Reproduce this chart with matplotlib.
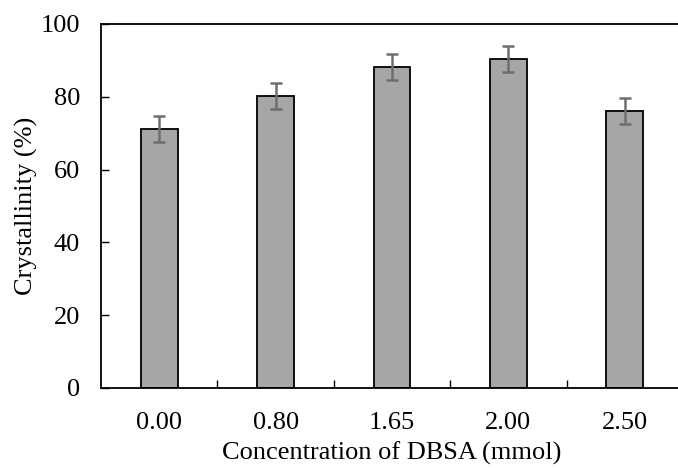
import matplotlib
matplotlib.use("Agg")
import matplotlib.pyplot as plt
import numpy as np

categories = ["0.00", "0.80", "1.65", "2.00", "2.50"]
crystallinity = [71.2, 80.3, 88.2, 90.4, 76.1]
errors = [3.6, 3.6, 3.6, 3.6, 3.5]
yticks = [0, 20, 40, 60, 80, 100]

plt.rcParams['font.family'] = ['Liberation Serif', 'DejaVu Serif']

fig = plt.figure(figsize=(6.78, 4.68), dpi=100)
ax = fig.add_axes([101/678, 80/468, (683-101)/678, (388-24)/468])

x = np.arange(len(categories))
ax.bar(x, crystallinity, width=0.315, color='#a6a6a6', edgecolor='black', linewidth=1.3, zorder=2)
ax.errorbar(x, crystallinity, yerr=errors, fmt='none', ecolor='#6e6e6e', elinewidth=1.8,
            capsize=4.5, capthick=1.8, zorder=3)

ax.set_xlim(-0.5, len(categories) - 0.5)
ax.set_ylim(0, 100)
ax.set_yticks(yticks)
ax.set_xticks(x)
ax.set_xticklabels(categories)
ax.set_xticks(np.arange(0.5, len(categories) - 1, 1.0), minor=True)

ax.tick_params(axis='x', which='major', length=0, pad=17, labelsize=19)
ax.tick_params(axis='x', which='minor', direction='in', length=5.5, width=1.0)
ax.tick_params(axis='y', which='major', direction='in', length=5.5, width=1.0, pad=15, labelsize=19)

for side in ['left', 'bottom', 'top']:
    ax.spines[side].set_linewidth(1.3)
ax.spines['right'].set_visible(False)

ax.set_xlabel('Concentration of DBSA (mmol)', fontsize=19, labelpad=6)
ax.set_ylabel('Crystallinity (%)', fontsize=19, labelpad=2)

fig.savefig('out.png', dpi=100)
